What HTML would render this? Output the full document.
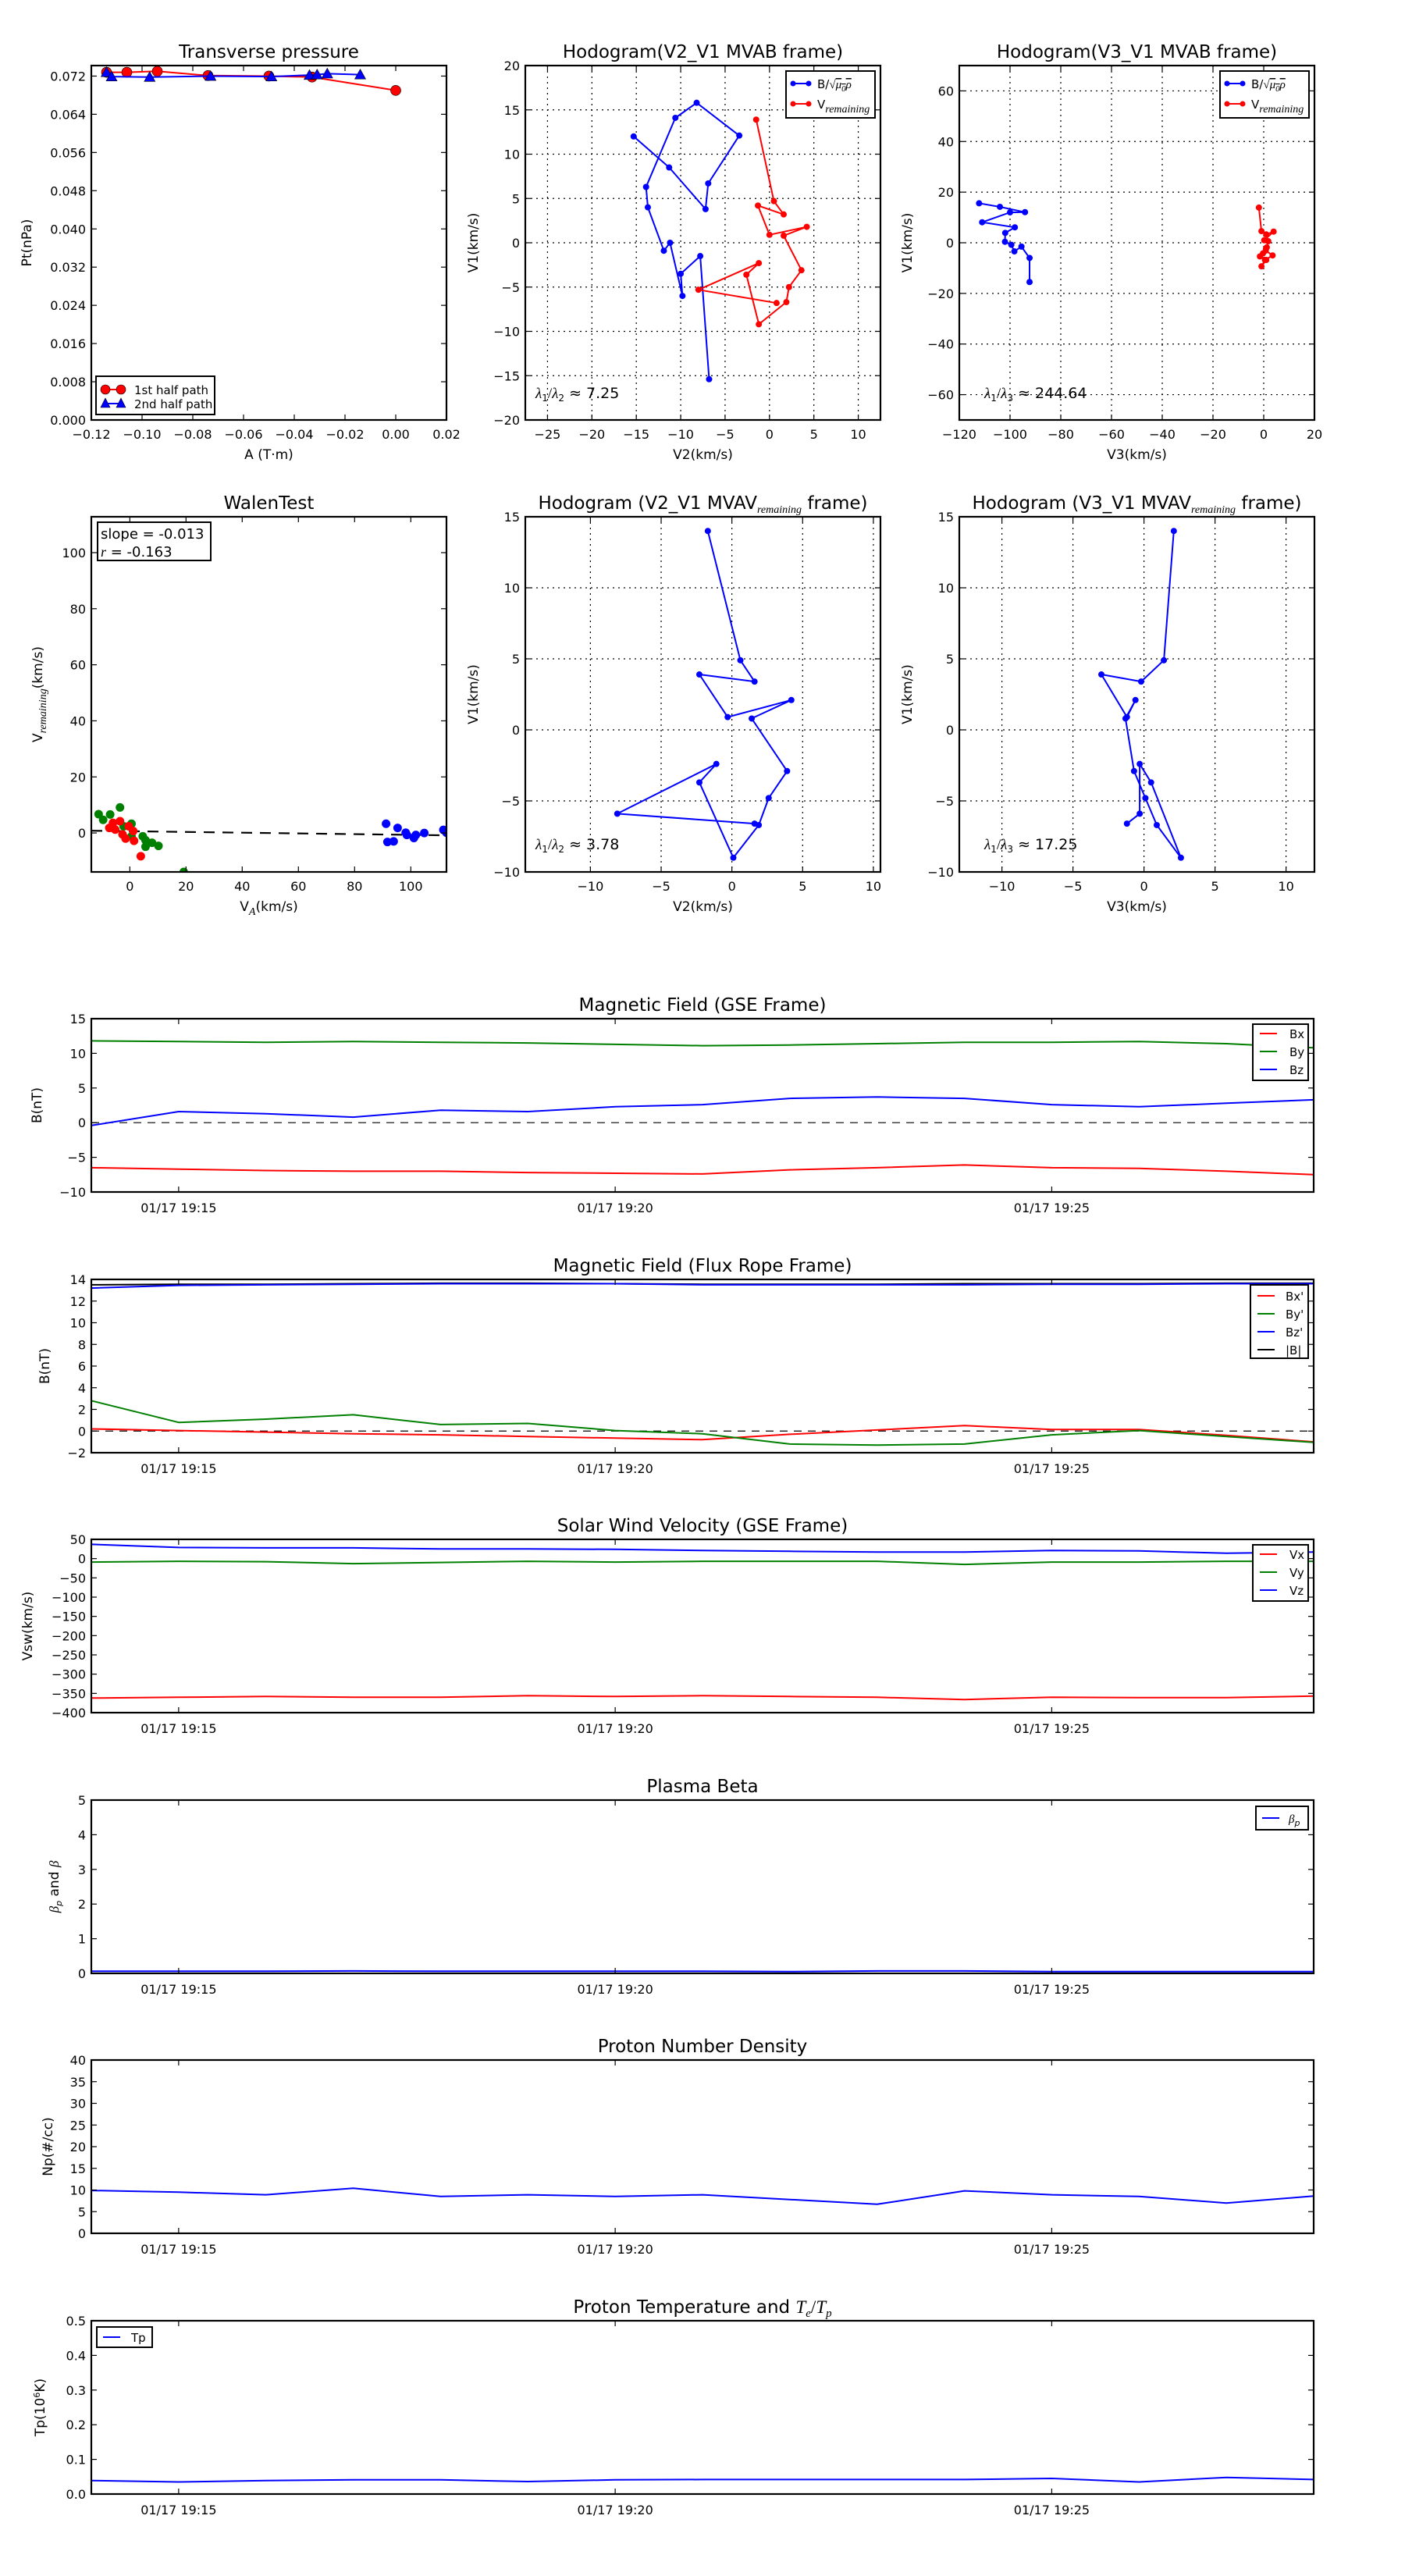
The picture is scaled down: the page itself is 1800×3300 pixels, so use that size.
<!DOCTYPE html>
<html><head><meta charset="utf-8"><title>Flux rope analysis</title>
<style>
html,body{margin:0;padding:0;background:#fff;}
svg{display:block;font-family:"DejaVu Sans","Liberation Sans",sans-serif;}
</style></head>
<body>
<svg id="fig" xmlns="http://www.w3.org/2000/svg" width="1800" height="3300" viewBox="0 0 1800 3300"></svg>
<script>
// ---------- DATA ----------
const tpA1 = [-0.114,-0.106,-0.094,-0.074,-0.050,-0.033,0.000];
const tpP1 = [0.0728,0.0728,0.0730,0.0721,0.0720,0.0718,0.0690];
const tpA2 = [-0.114,-0.112,-0.097,-0.073,-0.049,-0.034,-0.031,-0.027,-0.014];
const tpP2 = [0.0728,0.0719,0.0718,0.0720,0.0719,0.0722,0.0723,0.0725,0.0723];
const hbV2 = [-15.3,-11.3,-7.2,-6.9,-3.4,-8.2,-10.6,-13.9,-13.7,-11.9,-11.2,-9.8,-10.0,-7.8,-6.8];
const hbV1 = [12.0,8.5,3.8,6.7,12.1,15.8,14.1,6.3,4.0,-0.9,0.0,-6.0,-3.5,-1.5,-15.4];
const hvV2 = [-1.5,0.5,1.6,-1.3,0.0,4.2,1.6,3.6,2.2,1.9,-1.2,-2.6,-1.2,-8.0,0.8];
const hvV1 = [13.9,4.7,3.2,4.2,0.9,1.8,0.8,-3.1,-5.0,-6.7,-9.2,-3.6,-2.3,-5.3,-6.8];
const hbV3 = [-112.2,-104.0,-94.1,-100.0,-111.0,-98.1,-101.9,-102.0,-99.5,-98.3,-95.5,-92.3,-92.3];
const hbV1b = [15.6,14.2,12.1,12.0,8.1,6.1,3.9,0.4,-0.8,-3.4,-1.5,-6.0,-15.5];
const hvV3 = [-1.9,-0.9,1.0,3.9,0.2,1.8,0.8,3.5,0.5,-0.9,1.0,-1.5,0.9,-0.3,1.2];
const hvV1b = [13.9,4.6,3.3,4.4,1.0,0.6,-3.1,-5.0,-6.8,-9.3,-6.8,-5.4,-2.3,-4.2,-1.8];
const rV2 = [-1.7,0.6,1.6,-2.3,-0.3,4.2,1.4,3.9,2.6,1.9,0.1,-2.3,-1.1,-8.1,1.6];
const rV1 = [14.0,4.9,3.4,3.9,0.9,2.1,0.8,-2.9,-4.8,-6.7,-9.0,-3.7,-2.4,-5.9,-6.6];
const rV3 = [2.1,1.4,-0.2,-3.0,-1.2,-0.6,-1.3,-0.7,0.1,0.9,2.6,0.5,-0.3,-0.3,-1.2];
const wGx = [-11.1,-9.5,-7.0,-3.5,-2.2,0.6,0.6,4.6,5.6,5.6,7.9,10.2,19.2];
const wGy = [6.7,4.7,6.6,9.1,2.4,3.3,-1.2,-1.2,-2.6,-4.9,-3.5,-4.6,-13.9];
const wRx = [-7.3,-6.0,-3.5,-5.2,-2.6,-1.5,1.2,1.5,3.9,-0.4];
const wRy = [1.8,3.6,4.2,1.2,-0.5,-2.0,0.7,-2.8,-8.3,2.4];
const wBx = [91.2,91.7,93.9,95.3,98.2,98.6,101.1,101.8,104.8,111.6,112.7];
const wBy = [3.3,-3.2,-3.0,1.8,0.1,-0.7,-1.8,-0.7,0.0,1.1,0.1];
const wSlope = -0.013;
const wIntercept = 0.62;
const tMin = [0,1,2,3,4,5,6,7,8,9,10,11,12,13,14];
const timeTicks = [1,6,11];
const timeTickLabels = ["01/17 19:15","01/17 19:20","01/17 19:25"];
const bx = [-6.5,-6.7,-6.9,-7.0,-7.0,-7.2,-7.3,-7.4,-6.8,-6.5,-6.1,-6.5,-6.6,-7.0,-7.5];
const by = [11.8,11.7,11.6,11.7,11.6,11.5,11.3,11.1,11.2,11.4,11.6,11.6,11.7,11.4,10.8];
const bz = [-0.4,1.6,1.3,0.8,1.8,1.6,2.3,2.6,3.5,3.7,3.5,2.6,2.3,2.8,3.3];
const fbx = [0.2,0.05,-0.1,-0.25,-0.35,-0.5,-0.65,-0.8,-0.3,0.1,0.5,0.15,0.15,-0.4,-1.0];
const fby = [2.8,0.8,1.1,1.5,0.6,0.7,0.05,-0.25,-1.2,-1.3,-1.2,-0.35,0.05,-0.5,-1.05];
const fbz = [13.2,13.45,13.5,13.55,13.6,13.6,13.6,13.5,13.5,13.5,13.5,13.55,13.55,13.6,13.6];
const fbt = [13.5,13.55,13.55,13.6,13.65,13.65,13.6,13.55,13.55,13.55,13.6,13.6,13.6,13.65,13.65];
const vx = [-362,-360,-358,-360,-360,-356,-358,-356,-358,-360,-366,-360,-361,-361,-357];
const vy = [-9,-7,-8,-13,-10,-7,-9,-7,-7,-7,-15,-9,-9,-7,-7];
const vz = [37,29,28,28,25,25,24,21,19,17,17,21,20,14,17];
const betaP = [0.06,0.06,0.06,0.07,0.06,0.06,0.06,0.06,0.05,0.07,0.07,0.05,0.05,0.05,0.05];
const np = [9.9,9.5,8.9,10.4,8.5,8.9,8.5,8.9,7.8,6.7,9.8,8.9,8.5,7.0,8.6];
const tp = [0.039,0.035,0.039,0.041,0.041,0.036,0.041,0.042,0.042,0.042,0.042,0.045,0.035,0.048,0.042];

// ---------- HELPERS ----------
const NS = 'http://www.w3.org/2000/svg';
const svg = document.getElementById('fig');
let clipN = 0;
function mk(tag, attrs, parent){
  const e = document.createElementNS(NS, tag);
  for (const k in attrs) e.setAttribute(k, attrs[k]);
  (parent || svg).appendChild(e);
  return e;
}
function fmtNum(v, d){ const s = Math.abs(v).toFixed(d); return (v < -1e-12 ? '\u2212' : '') + s; }
function range(a, b, s){ const r=[]; for(let v=a; v<=b+s*1e-6; v+=s) r.push(+v.toFixed(6)); return r; }

function makeAxes(c){
  const g = mk('g', {});
  
  
  const sx = v => c.x + (v - c.xmin) / (c.xmax - c.xmin) * c.w;
  const sy = v => c.y + c.h - (v - c.ymin) / (c.ymax - c.ymin) * c.h;
  const id = 'clip' + (clipN++);
  const cp = mk('clipPath', {id: id}, g);
  mk('rect', {x: c.x, y: c.y, width: c.w, height: c.h}, cp);
  if (c.grid){
    c.xticks.forEach(v => {
      const gl = mk('line', {x1: sx(v), x2: sx(v), y1: c.y, y2: c.y + c.h, stroke: '#000', 'stroke-width': 1.2, 'stroke-dasharray': '2,5'}, g);
      
      
    });
    c.yticks.forEach(v => {
      const gl = mk('line', {x1: c.x, x2: c.x + c.w, y1: sy(v), y2: sy(v), stroke: '#000', 'stroke-width': 1.2, 'stroke-dasharray': '2,5'}, g);
      
      
    });
  }
  const plot = mk('g', {'clip-path': 'url(#' + id + ')'}, g);
  
  
  const over = mk('g', {}, g);
  c.xticks.forEach((v, i) => {
    const X = sx(v);
    mk('line', {x1: X, x2: X, y1: c.y + c.h, y2: c.y + c.h - 7, stroke: '#000', 'stroke-width': 1.2}, over);
    mk('line', {x1: X, x2: X, y1: c.y, y2: c.y + 7, stroke: '#000', 'stroke-width': 1.2}, over);
    const t = mk('text', {x: X, y: c.y + c.h + (c.xlabOff || 24), 'text-anchor': 'middle', 'font-size': 16}, over);
    
    
    t.textContent = c.xfmt(v, i);
  });
  c.yticks.forEach((v, i) => {
    const Y = sy(v);
    mk('line', {x1: c.x, x2: c.x + 7, y1: Y, y2: Y, stroke: '#000', 'stroke-width': 1.2}, over);
    mk('line', {x1: c.x + c.w, x2: c.x + c.w - 7, y1: Y, y2: Y, stroke: '#000', 'stroke-width': 1.2}, over);
    const t = mk('text', {x: c.x - 7, y: Y + 6, 'text-anchor': 'end', 'font-size': 16}, over);
    
    
    t.textContent = c.yfmt(v, i);
  });
  const fr = mk('rect', {x: c.x, y: c.y, width: c.w, height: c.h, fill: 'none', stroke: '#000', 'stroke-width': 2.2}, over);
  
  
  const tt = mk('text', {x: c.x + c.w / 2, y: c.y - (c.titleOff || 10), 'text-anchor': 'middle', 'font-size': 23}, g);
  
  
  tt.innerHTML = c.title;
  if (c.xlabel){
    const xl = mk('text', {x: c.x + c.w / 2, y: c.y + c.h + 50, 'text-anchor': 'middle', 'font-size': 17}, g);
    
    
    xl.innerHTML = c.xlabel;
  }
  if (c.ylabel){
    const yx = c.ylabX, yy = c.y + c.h / 2;
    const yl = mk('text', {x: yx, y: yy, 'text-anchor': 'middle', 'font-size': 17, transform: 'rotate(-90 ' + yx + ' ' + yy + ')'}, g);
    
    
    yl.innerHTML = c.ylabel;
  }
  return {g, sx, sy, plot, over};
}
function polyline(ax, xs, ys, color, width, parent){
  const pts = xs.map((x, i) => ax.sx(x).toFixed(1) + ',' + ax.sy(ys[i]).toFixed(1)).join(' ');
  return mk('polyline', {points: pts, fill: 'none', stroke: color, 'stroke-width': width || 1.8, 'stroke-linejoin': 'round'}, parent || ax.plot);
}
function dots(ax, xs, ys, color, r, parent){
  const g = mk('g', {}, parent || ax.plot);
  xs.forEach((x, i) => {
    const c = mk('circle', {cx: ax.sx(x), cy: ax.sy(ys[i]), r: r, fill: color, stroke: r > 4 ? '#000' : 'none', 'stroke-width': 0.6}, g);
    
    
  });
  return g;
}
function tris(ax, xs, ys, color, s){
  const g = mk('g', {}, ax.plot);
  xs.forEach((x, i) => {
    const X = ax.sx(x), Y = ax.sy(ys[i]);
    const p = mk('polygon', {points: X + ',' + (Y - s) + ' ' + (X - s) + ',' + (Y + s * 0.8) + ' ' + (X + s) + ',' + (Y + s * 0.8), fill: color, stroke: '#000', 'stroke-width': 0.6}, g);
    
    
  });
  return g;
}
function legendBox(x, y, w, h, name){
  const r = mk('rect', {x: x, y: y, width: w, height: h, fill: '#fff', stroke: '#000', 'stroke-width': 2});
  
  
}
function legendLine(x, y, color, label, opts){
  opts = opts || {};
  const l = mk('line', {x1: x, x2: x + 22, y1: y, y2: y, stroke: color, 'stroke-width': 2});
  
  
  if (opts.dot){
    mk('circle', {cx: x + 1, cy: y, r: 3.5, fill: color});
    mk('circle', {cx: x + 21, cy: y, r: 3.5, fill: color});
  }
  const t = mk('text', {x: x + (opts.gap || 38), y: y + 6, 'font-size': opts.fs || 15});
  
  
  t.innerHTML = label;
}
const sub = (s, rest) => '<tspan font-family="Liberation Serif,serif" font-style="italic" font-size="14" dy="5">' + s + '</tspan><tspan dy="-5">' + (rest || '') + '</tspan>';
const BLEG = 'B/<tspan font-family="Liberation Serif,serif">\u221A</tspan><tspan font-family="Liberation Serif,serif" font-style="italic" text-decoration="overline">\u03BC<tspan font-size="11" dy="4">0</tspan><tspan dy="-4">\u03C1</tspan></tspan>';
const VREM = 'V' + sub('remaining');

// ---------- ROW 1 ----------
const cols = [117, 673, 1229], W = 455;
const r1y = 84, r1h = 454, r2y = 662, r2h = 455;

const axT = makeAxes({name: 'transverse-pressure-chart', x: cols[0], y: r1y, w: W, h: r1h,
  xmin: -0.12, xmax: 0.02, ymin: 0, ymax: 0.0742, xticks: range(-0.12, 0.02, 0.02), yticks: range(0, 0.072, 0.008),
  xfmt: v => fmtNum(v, 2), yfmt: v => fmtNum(v, 3), title: 'Transverse pressure', xlabel: 'A (T\u00B7m)', ylabel: 'Pt(nPa)', ylabX: 40});
const l1 = polyline(axT, tpA1, tpP1, '#f00', 2);


dots(axT, tpA1, tpP1, '#f00', 6.5);
const l2 = polyline(axT, tpA2, tpP2, '#00f', 2);


tris(axT, tpA2, tpP2, '#00f', 7);
legendBox(123, 482, 152, 49, 'transverse-pressure-legend');
mk('line', {x1: 132, x2: 157, y1: 499, y2: 499, stroke: '#f00', 'stroke-width': 2});
mk('circle', {cx: 135, cy: 499, r: 6, fill: '#f00', stroke: '#000', 'stroke-width': 0.6});
mk('circle', {cx: 155, cy: 499, r: 6, fill: '#f00', stroke: '#000', 'stroke-width': 0.6});
const tl1 = mk('text', {x: 172, y: 505, 'font-size': 15});


tl1.textContent = '1st half path';
mk('line', {x1: 132, x2: 157, y1: 517, y2: 517, stroke: '#00f', 'stroke-width': 2});
mk('polygon', {points: '135,510 129,522 141,522', fill: '#00f', stroke: '#000', 'stroke-width': 0.6});
mk('polygon', {points: '155,510 149,522 161,522', fill: '#00f', stroke: '#000', 'stroke-width': 0.6});
const tl2 = mk('text', {x: 172, y: 523, 'font-size': 15});


tl2.textContent = '2nd half path';

const axH1 = makeAxes({name: 'hodogram-v2-v1-mvab', x: cols[1], y: r1y, w: W, h: r1h,
  xmin: -27.5, xmax: 12.5, ymin: -20, ymax: 20, xticks: range(-25, 10, 5), yticks: range(-20, 20, 5), grid: true,
  xfmt: v => fmtNum(v, 0), yfmt: v => fmtNum(v, 0), title: 'Hodogram(V2_V1 MVAB frame)', xlabel: 'V2(km/s)', ylabel: 'V1(km/s)', ylabX: 612});
let p = polyline(axH1, hbV2, hbV1, '#00f', 2);


dots(axH1, hbV2, hbV1, '#00f', 4);
p = polyline(axH1, hvV2, hvV1, '#f00', 2);


dots(axH1, hvV2, hvV1, '#f00', 4);
legendBox(1007, 91, 114, 60, 'hodogram-legend');
legendLine(1015, 107, '#00f', BLEG, {dot: true, gap: 32, fs: 15});
legendLine(1015, 133, '#f00', VREM, {dot: true, gap: 32, fs: 15});

const axH3 = makeAxes({name: 'hodogram-v3-v1-mvab', x: cols[2], y: r1y, w: W, h: r1h,
  xmin: -120, xmax: 20, ymin: -70, ymax: 70, xticks: range(-120, 20, 20), yticks: range(-60, 60, 20), grid: true,
  xfmt: v => fmtNum(v, 0), yfmt: v => fmtNum(v, 0), title: 'Hodogram(V3_V1 MVAB frame)', xlabel: 'V3(km/s)', ylabel: 'V1(km/s)', ylabX: 1168});
p = polyline(axH3, hbV3, hbV1b, '#00f', 2);


dots(axH3, hbV3, hbV1b, '#00f', 4);
p = polyline(axH3, hvV3, hvV1b, '#f00', 2);


dots(axH3, hvV3, hvV1b, '#f00', 4);
legendBox(1563, 91, 114, 60, 'hodogram-legend');
legendLine(1571, 107, '#00f', BLEG, {dot: true, gap: 32, fs: 15});
legendLine(1571, 133, '#f00', VREM, {dot: true, gap: 32, fs: 15});

function lamText(x, y, idx, val){
  const t = mk('text', {x: x, y: y, 'font-size': 19});
  
  
  t.innerHTML = '<tspan font-family="Liberation Serif,serif" font-style="italic">\u03BB</tspan><tspan font-size="12" dy="4">1</tspan><tspan dy="-4" font-family="Liberation Serif,serif">/</tspan><tspan font-family="Liberation Serif,serif" font-style="italic">\u03BB</tspan><tspan font-size="12" dy="4">' + idx + '</tspan><tspan dy="-4"> \u2248 ' + val + '</tspan>';
}
lamText(686, 510, 2, '7.25');
lamText(1261, 510, 3, '244.64');

// ---------- ROW 2 ----------
const axW = makeAxes({name: 'walen-test-chart', x: cols[0], y: r2y, w: W, h: r2h,
  xmin: -13.7, xmax: 112.7, ymin: -13.9, ymax: 112.8, xticks: range(0, 100, 20), yticks: range(0, 100, 20),
  xfmt: v => fmtNum(v, 0), yfmt: v => fmtNum(v, 0), title: 'WalenTest', xlabel: 'V' + sub('A', '(km/s)'),
  ylabel: 'V' + sub('remaining', '(km/s)'), ylabX: 54});
const fitX = [-13.7, 112.7];
const fitY = fitX.map(x => wIntercept + wSlope * x);
p = polyline(axW, fitX, fitY, '#000', 2.2);
p.setAttribute('stroke-dasharray', '14,10');


function wdots(xs, ys, color){
  xs.forEach((x, i) => {
    const c = mk('circle', {cx: axW.sx(x), cy: axW.sy(ys[i]), r: 5.5, fill: color}, axW.plot);
    
    
  });
}
wdots(wGx, wGy, '#008000');
wdots(wRx, wRy, '#f00');
wdots(wBx, wBy, '#00f');
legendBox(125, 669, 145, 49, 'walen-stats-box');
let wt = mk('text', {x: 129, y: 690, 'font-size': 18});


wt.textContent = 'slope = -0.013';
wt = mk('text', {x: 129, y: 713, 'font-size': 18});


wt.innerHTML = '<tspan font-family="Liberation Serif,serif" font-style="italic">r</tspan> = -0.163';

const axR2 = makeAxes({name: 'hodogram-v2-v1-mvav', x: cols[1], y: r2y, w: W, h: r2h,
  xmin: -14.6, xmax: 10.5, ymin: -10, ymax: 15, xticks: range(-10, 10, 5), yticks: range(-10, 15, 5), grid: true,
  xfmt: v => fmtNum(v, 0), yfmt: v => fmtNum(v, 0), title: 'Hodogram (V2_V1 MVAV' + sub('remaining', ' frame)'), xlabel: 'V2(km/s)', ylabel: 'V1(km/s)', ylabX: 612});
p = polyline(axR2, rV2, rV1, '#00f', 2);


dots(axR2, rV2, rV1, '#00f', 4);
const axR3 = makeAxes({name: 'hodogram-v3-v1-mvav', x: cols[2], y: r2y, w: W, h: r2h,
  xmin: -13, xmax: 12, ymin: -10, ymax: 15, xticks: range(-10, 10, 5), yticks: range(-10, 15, 5), grid: true,
  xfmt: v => fmtNum(v, 0), yfmt: v => fmtNum(v, 0), title: 'Hodogram (V3_V1 MVAV' + sub('remaining', ' frame)'), xlabel: 'V3(km/s)', ylabel: 'V1(km/s)', ylabX: 1168});
p = polyline(axR3, rV3, rV1, '#00f', 2);


dots(axR3, rV3, rV1, '#00f', 4);
lamText(686, 1088, 2, '3.78');
lamText(1261, 1088, 3, '17.25');

// ---------- TIME SERIES ----------
const TX = 117, TW = 1566, TH = 222;
function tsPanel(name, top, ymin, ymax, yticks, title, ylabel, ylabX, dec){
  return makeAxes({name: name, x: TX, y: top, w: TW, h: TH, xmin: 0, xmax: 14, ymin: ymin, ymax: ymax,
    xticks: timeTicks, yticks: yticks, xfmt: (v, i) => timeTickLabels[i], yfmt: v => fmtNum(v, dec || 0),
    title: title, ylabel: ylabel, ylabX: ylabX, xlabOff: 26});
}
function series(ax, ys, color, name){
  const s = polyline(ax, tMin, ys, color, 2);
  
  
}
function zeroLine(ax){
  const z = mk('line', {x1: TX, x2: TX + TW, y1: ax.sy(0), y2: ax.sy(0), stroke: '#000', 'stroke-width': 1.2, 'stroke-dasharray': '10,8'}, ax.plot);
  
  
}
const axB = tsPanel('magnetic-field-gse-chart', 1305, -10, 15, range(-10, 15, 5), 'Magnetic Field (GSE Frame)', 'B(nT)', 53);
zeroLine(axB);
series(axB, bx, '#f00', 'bx-line');
series(axB, by, '#008000', 'by-line');
series(axB, bz, '#00f', 'bz-line');
legendBox(1605, 1312, 71, 72, 'magnetic-field-legend');
legendLine(1614, 1324, '#f00', 'Bx', {gap: 38});
legendLine(1614, 1347, '#008000', 'By', {gap: 38});
legendLine(1614, 1370, '#00f', 'Bz', {gap: 38});
const axF = tsPanel('magnetic-field-flux-rope-chart', 1639, -2, 14, range(-2, 14, 2), 'Magnetic Field (Flux Rope Frame)', 'B(nT)', 63);
zeroLine(axF);
series(axF, fbt, '#000', 'b-total-line');
series(axF, fbz, '#00f', 'bz-prime-line');
series(axF, fbx, '#f00', 'bx-prime-line');
series(axF, fby, '#008000', 'by-prime-line');
legendBox(1602, 1646, 74, 94, 'flux-rope-legend');
legendLine(1611, 1660, '#f00', "Bx'", {gap: 36});
legendLine(1611, 1683, '#008000', "By'", {gap: 36});
legendLine(1611, 1706, '#00f', "Bz'", {gap: 36});
legendLine(1611, 1729, '#000', '|B|', {gap: 36});
const axV = tsPanel('solar-wind-velocity-chart', 1972, -400, 50, range(-400, 50, 50), 'Solar Wind Velocity (GSE Frame)', 'Vsw(km/s)', 41);
series(axV, vx, '#f00', 'vx-line');
series(axV, vy, '#008000', 'vy-line');
series(axV, vz, '#00f', 'vz-line');
legendBox(1605, 1979, 71, 72, 'velocity-legend');
legendLine(1614, 1991, '#f00', 'Vx', {gap: 38});
legendLine(1614, 2014, '#008000', 'Vy', {gap: 38});
legendLine(1614, 2037, '#00f', 'Vz', {gap: 38});
const axBeta = tsPanel('plasma-beta-chart', 2306, 0, 5, range(0, 5, 1), 'Plasma Beta',
  '<tspan font-family="Liberation Serif,serif" font-style="italic">\u03B2</tspan><tspan font-size="11" dy="4" font-style="italic">p</tspan><tspan dy="-4"> and </tspan><tspan font-family="Liberation Serif,serif" font-style="italic">\u03B2</tspan>', 75);
series(axBeta, betaP, '#00f', 'beta-p-line');
legendBox(1609, 2314, 67, 30, 'beta-legend');
legendLine(1617, 2329, '#00f', '<tspan font-family="Liberation Serif,serif" font-style="italic">\u03B2</tspan><tspan font-size="11" dy="4" font-style="italic">p</tspan>', {gap: 34});
const axN = tsPanel('proton-density-chart', 2639, 0, 40, range(0, 40, 5), 'Proton Number Density', 'Np(#/cc)', 67);
series(axN, np, '#00f', 'np-line');
const axTp = tsPanel('proton-temperature-chart', 2973, 0, 0.5, range(0, 0.5, 0.1),
  'Proton Temperature and <tspan font-family="Liberation Serif,serif" font-style="italic">T</tspan><tspan font-family="Liberation Serif,serif" font-style="italic" font-size="15" dy="5">e</tspan><tspan dy="-5" font-family="Liberation Serif,serif">/</tspan><tspan font-family="Liberation Serif,serif" font-style="italic">T</tspan><tspan font-family="Liberation Serif,serif" font-style="italic" font-size="15" dy="5">p</tspan>',
  'Tp(10<tspan font-size="11" dy="-6">6</tspan><tspan dy="6">K)</tspan>', 57, 1);
series(axTp, tp, '#00f', 'tp-line');
legendBox(124, 2981, 71, 26, 'temperature-legend');
legendLine(132, 2994, '#00f', 'Tp', {gap: 36});
</script>
</body></html>
